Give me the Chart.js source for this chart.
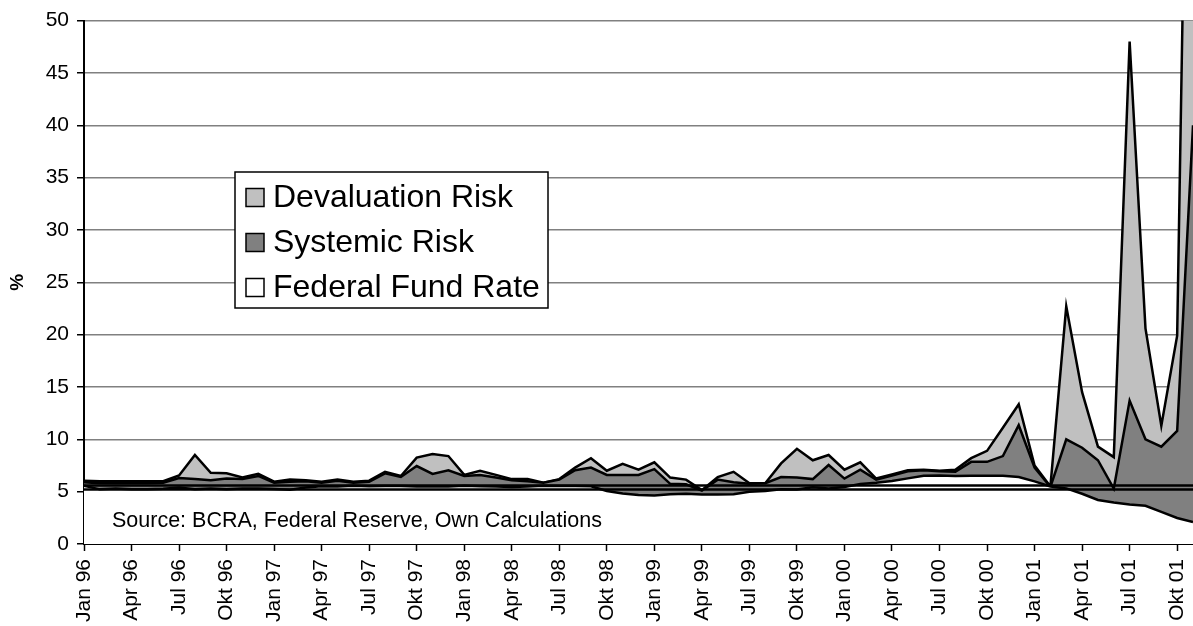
<!DOCTYPE html>
<html>
<head>
<meta charset="utf-8">
<title>Devaluation and systemic risk</title>
<script src="https://cdn.jsdelivr.net/npm/chart.js@4.4.1/dist/chart.umd.min.js"></script>
<style>
  html, body { margin: 0; padding: 0; background: #fff; }
  #wrap { position: relative; width: 1193px; height: 626px; }
</style>
</head>
<body>
<div id="wrap"><canvas id="chart"></canvas></div>
<script>
// Monthly, Jan 96 .. Nov 01 (German month abbreviations as in the source)
const months = ['Jan', 'Feb', 'Mrz', 'Apr', 'Mai', 'Jun', 'Jul', 'Aug', 'Sep', 'Okt', 'Nov', 'Dez'];
const years = ['96', '97', '98', '99', '00', '01'];
const labels = [];
years.forEach(y => months.forEach(m => labels.push(m + ' ' + y)));
labels.length = 71;

// Upper edge of each area, in %
const devaluationRisk = [
  6.05, 6.0, 6.0, 6.0, 6.0, 6.0, 6.55, 8.5, 6.8, 6.75, 6.35, 6.7,
  5.95, 6.15, 6.1, 5.95, 6.15, 5.95, 6.05, 6.9, 6.5, 8.25, 8.6, 8.4,
  6.6, 7.0, 6.6, 6.2, 6.2, 5.85, 6.2, 7.3, 8.2, 7.0, 7.65, 7.1,
  7.8, 6.35, 6.15, 5.15, 6.4, 6.9, 5.8, 5.8, 7.7, 9.1, 8.0, 8.5,
  7.1, 7.8, 6.25, 6.65, 7.05, 7.1, 7.0, 7.1, 8.2, 8.9, 11.1, 13.35,
  7.5, 5.5, 22.7, 14.5, 9.3, 8.3, 48.0, 20.6, 11.3, 19.9, 110
];
const systemicRisk = [
  5.9, 5.8, 5.8, 5.8, 5.8, 5.85, 6.3, 6.2, 6.1, 6.25, 6.2, 6.5,
  5.85, 5.95, 6.0, 5.85, 6.05, 5.85, 5.95, 6.75, 6.4, 7.45, 6.7, 7.05,
  6.5, 6.6, 6.35, 6.1, 6.0, 5.85, 6.15, 7.05, 7.3, 6.6, 6.6, 6.6,
  7.15, 5.75, 5.7, 5.1, 6.15, 5.9, 5.75, 5.8, 6.4, 6.35, 6.2, 7.55,
  6.25, 7.1, 6.15, 6.55, 6.95, 7.05, 6.95, 6.9, 7.85, 7.85, 8.4, 11.35,
  7.3, 5.45, 10.0, 9.2, 8.0, 5.3, 13.7, 10.0, 9.3, 10.8, 40
];
const fedFundRate = [
  5.56, 5.22, 5.31, 5.22, 5.24, 5.27, 5.40, 5.22, 5.30, 5.24, 5.31, 5.29,
  5.25, 5.19, 5.39, 5.51, 5.50, 5.56, 5.52, 5.54, 5.54, 5.50, 5.52, 5.50,
  5.56, 5.51, 5.49, 5.45, 5.49, 5.56, 5.54, 5.55, 5.51, 5.07, 4.83, 4.68,
  4.63, 4.76, 4.81, 4.74, 4.74, 4.76, 4.99, 5.07, 5.22, 5.20, 5.42, 5.30,
  5.45, 5.73, 5.85, 6.02, 6.27, 6.53, 6.54, 6.50, 6.52, 6.51, 6.51, 6.40,
  5.98, 5.49, 5.31, 4.80, 4.21, 3.97, 3.77, 3.65, 3.07, 2.49, 2.09
];
// the two flat black lines running across the whole plot
const flatLines = [5.6, 5.2];

const yTicks = [0, 50, 5]; // min, max, step

const FONT = 'Arial, "Liberation Sans", sans-serif';

const legendItems = [
  { text: 'Devaluation Risk', color: '#c0c0c0' },
  { text: 'Systemic Risk', color: '#808080' },
  { text: 'Federal Fund Rate', color: '#ffffff' }
];

// legend box and source note drawn on top of the plot
const overlay = {
  id: 'overlay',
  afterDraw(chart) {
    const ctx = chart.ctx;
    ctx.save();
    ctx.font = '21.5px ' + FONT;
    ctx.fillStyle = '#000';
    ctx.textBaseline = 'alphabetic';
    ctx.fillText('Source: BCRA, Federal Reserve, Own Calculations', 112, 527);

    ctx.fillStyle = '#fff';
    ctx.fillRect(235, 172, 313, 136);
    ctx.strokeStyle = '#000';
    ctx.lineWidth = 1.5;
    ctx.strokeRect(235, 172, 313, 136);
    ctx.font = '32px ' + FONT;
    ctx.textBaseline = 'middle';
    legendItems.forEach((it, i) => {
      const cy = 197.5 + i * 45;
      ctx.fillStyle = it.color;
      ctx.fillRect(246, cy - 9, 18, 18);
      ctx.strokeRect(246, cy - 9, 18, 18);
      ctx.fillStyle = '#000';
      ctx.fillText(it.text, 273, cy + 1);
    });
    ctx.restore();
  }
};

const area = { pointRadius: 0, borderColor: '#000', borderWidth: 2.5, tension: 0, fill: 'origin' };

new Chart(document.getElementById('chart'), {
  type: 'line',
  data: {
    labels: labels,
    datasets: [
      { ...area, label: 'Devaluation Risk', data: devaluationRisk, backgroundColor: '#c0c0c0', order: 3 },
      { ...area, label: 'Systemic Risk', data: systemicRisk, backgroundColor: '#808080', order: 2 },
      { ...area, label: 'Federal Fund Rate', data: fedFundRate, backgroundColor: '#ffffff', order: 1 },
      ...flatLines.map(v => ({
        label: '',
        data: [{ x: labels[0], y: v }, { x: labels[labels.length - 1], y: v }],
        borderColor: '#000', borderWidth: 2.5, pointRadius: 0, fill: false, order: 0
      }))
    ]
  },
  options: {
    responsive: true,
    maintainAspectRatio: false,
    animation: false,
    devicePixelRatio: 1,
    layout: { padding: { top: 20, right: 0, bottom: 0, left: 0 } },
    plugins: {
      legend: { display: false },
      tooltip: { enabled: false }
    },
    scales: {
      x: {
        offset: false,
        afterFit(scale) {
          scale.height = 82;
          scale.paddingLeft = 0;
          scale.paddingRight = 0;
        },
        border: { color: '#000', width: 2 },
        grid: { drawOnChartArea: false, drawTicks: true, tickLength: 7, tickColor: '#000', tickWidth: 1.5 },
        ticks: {
          autoSkip: false,
          maxRotation: 90,
          minRotation: 90,
          padding: 8,
          color: '#000',
          font: { family: FONT, size: 21 },
          callback(v, i) { return i % 3 === 0 ? labels[i] : null; }
        }
      },
      y: {
        min: yTicks[0],
        max: yTicks[1],
        afterFit(scale) { scale.width = 84; },
        border: { color: '#000', width: 2 },
        grid: { color: '#808080', lineWidth: 1.5, tickLength: 7, tickColor: '#000', tickWidth: 1.5 },
        ticks: {
          stepSize: yTicks[2],
          padding: 8,
          color: '#000',
          font: { family: FONT, size: 21 }
        },
        title: {
          display: true,
          text: '%',
          color: '#000',
          font: { family: FONT, size: 19, weight: 'bold' },
          padding: { top: 6, bottom: 0 }
        }
      }
    }
  },
  plugins: [overlay]
});
</script>
</body>
</html>
